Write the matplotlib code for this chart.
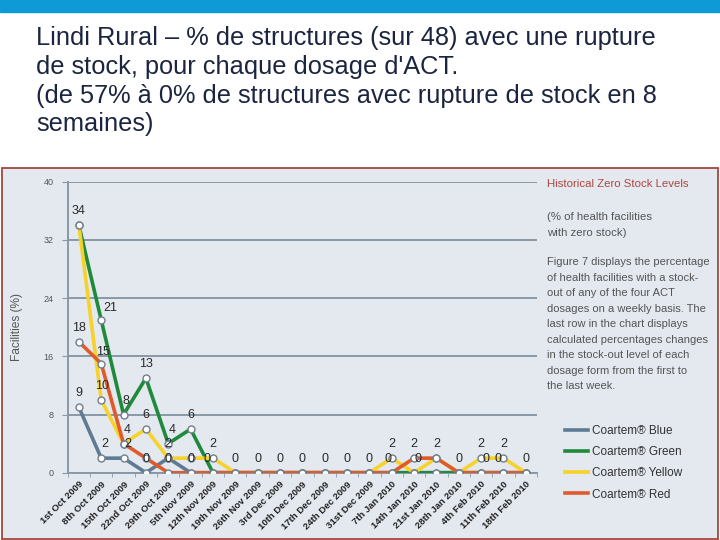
import matplotlib
matplotlib.use("Agg")
import matplotlib.pyplot as plt
from matplotlib.patches import Rectangle

# ── Data ──────────────────────────────────────────────────────────────────────
weeks = [
    "1st Oct 2009", "8th Oct 2009", "15th Oct 2009", "22nd Oct 2009",
    "29th Oct 2009", "5th Nov 2009", "12th Nov 2009", "19th Nov 2009",
    "26th Nov 2009", "3rd Dec 2009", "10th Dec 2009", "17th Dec 2009",
    "24th Dec 2009", "31st Dec 2009", "7th Jan 2010", "14th Jan 2010",
    "21st Jan 2010", "28th Jan 2010", "4th Feb 2010", "11th Feb 2010",
    "18th Feb 2010",
]
blue   = [9, 2, 2, 0, 2, 0, 0, 0, 0, 0, 0, 0, 0, 0, 0, 0, 0, 0, 0, 0, 0]
green  = [34, 21, 8, 13, 4, 6, 0, 0, 0, 0, 0, 0, 0, 0, 0, 0, 0, 0, 0, 0, 0]
yellow = [34, 10, 4, 6, 2, 2, 2, 0, 0, 0, 0, 0, 0, 0, 2, 0, 2, 0, 2, 2, 0]
red    = [18, 15, 4, 2, 0, 0, 0, 0, 0, 0, 0, 0, 0, 0, 0, 2, 2, 0, 0, 0, 0]

series_names = ["Coartem® Blue", "Coartem® Green", "Coartem® Yellow", "Coartem® Red"]
series = [blue, green, yellow, red]
series_colors = ["#5d7b93", "#1f8a3b", "#f6d22a", "#e05b2b"]

# value labels: (series index, week index, dx px, dy px)
labels = [
    (1, 0, 0, 8), (3, 0, 0, 8), (0, 0, 0, 8),
    (1, 1, 9, 6), (3, 1, 2, 6), (2, 1, 1, 8), (0, 1, 4, 8),
    (1, 2, 2, 8), (2, 2, 4, 8), (0, 2, 4, 8),
    (1, 3, 0, 8), (2, 3, 0, 8), (0, 3, 0, 8),
    (1, 4, 4, 8), (2, 4, 0, 8), (3, 4, 0, 8),
    (1, 5, 0, 8), (3, 5, 0, 8),
    (3, 6, -6, 8), (2, 6, 0, 8),
    (3, 7, 0, 8), (3, 8, 0, 8), (3, 9, 0, 8), (3, 10, 0, 8),
    (3, 11, 0, 8), (3, 12, 0, 8), (3, 13, 0, 8),
    (2, 14, 0, 8), (3, 14, -4, 8),
    (3, 15, 0, 8), (2, 15, 4, 8),
    (3, 16, 0, 8),
    (3, 17, 0, 8),
    (2, 18, 0, 8), (3, 18, 5, 8),
    (2, 19, 0, 8), (3, 19, -5, 8),
    (3, 20, 0, 8),
]

title = ("Lindi Rural – % de structures (sur 48) avec une rupture\n"
         "de stock, pour chaque dosage d'ACT.\n"
         "(de 57% à 0% de structures avec rupture de stock en 8\n"
         "semaines)")

side_head = "Historical Zero Stock Levels"
side_sub = "(% of health facilities\nwith zero stock)"
side_body = ("Figure 7 displays the percentage\n"
             "of health facilities with a stock-\n"
             "out of any of the four ACT\n"
             "dosages on a weekly basis. The\n"
             "last row in the chart displays\n"
             "calculated percentages changes\n"
             "in the stock-out level of each\n"
             "dosage form from the first to\n"
             "the last week.")

# ── Figure ────────────────────────────────────────────────────────────────────
W, H = 720, 540
fig = plt.figure(figsize=(7.2, 5.4), dpi=100)
plt.rcParams["font.family"] = ["Liberation Sans", "DejaVu Sans"]

# top blue bar and chart panel
fig.patches.append(Rectangle((0, 1 - 12 / H), 1, 12 / H, transform=fig.transFigure,
                             color="#0d9ad6", zorder=0))
fig.patches.append(Rectangle((1.5 / W, 1.5 / H), 716 / W, (372 - 1.5) / H,
                             transform=fig.transFigure, facecolor="#e4e9f0",
                             edgecolor="#a3473f", linewidth=1.3, zorder=0))

fig.text(36 / W, 1 - 26 / H, title, ha="left", va="top", fontsize=18.3,
         color="#1b2540", linespacing=1.25)

ax = fig.add_axes([67.7 / W, 1 - 472.7 / H, (537 - 67.7) / W, (472.7 - 181.7) / H])
ax.set_zorder(2)
ax.set_facecolor("none")
x = list(range(len(weeks)))

for vals, name, col in zip(series, series_names, series_colors):
    ax.plot(x, vals, color=col, linewidth=2.6, label=name, zorder=3,
            solid_joinstyle="round")
for vals in series:
    ax.plot(x, vals, linestyle="none", marker="o", markersize=5,
            markerfacecolor="white", markeredgecolor="#6f7f8e",
            markeredgewidth=1.0, zorder=5)

for si, wi, dx, dy in labels:
    ax.annotate(f"{series[si][wi]}", (wi, series[si][wi]), xytext=(dx * 0.72, dy * 0.72),
                textcoords="offset points", ha="center", va="bottom",
                fontsize=9, color="#2a2a2a", zorder=6)

ax.set_xlim(-0.45, 20.5)
ax.set_ylim(0, 40)
ax.set_yticks([0, 8, 16, 24, 32, 40])
ax.grid(axis="y", color="#8898a8", linewidth=1.4, zorder=1)
ax.set_axisbelow(True)
for s in ["top", "right"]:
    ax.spines[s].set_visible(False)
ax.spines["left"].set_color("#8898a8")
ax.spines["left"].set_linewidth(1.4)
ax.spines["bottom"].set_color("#8898a8")
ax.spines["bottom"].set_linewidth(1.4)
ax.tick_params(axis="y", length=4, color="#8898a8", labelsize=6.5,
               labelcolor="#555555", pad=6)
ax.set_xticks(x)
ax.set_xticklabels(weeks, rotation=45, ha="right", rotation_mode="anchor",
                   fontsize=6.8, fontweight="bold", color="#222222")
ax.tick_params(axis="x", length=0, pad=5)
ax.set_xticks([i + 0.5 for i in range(-1, 21)], minor=True)
ax.tick_params(axis="x", which="minor", length=3, color="#8898a8")
ax.set_ylabel("Facilities (%)", fontsize=8.6, color="#555555", labelpad=15)

ax.legend(loc="upper left", bbox_to_anchor=(565 / W, 1 - 425 / H),
          bbox_transform=fig.transFigure, frameon=False, fontsize=8.5,
          handlelength=1.95, handletextpad=0.35, labelspacing=0.78,
          labelcolor="#333333", borderaxespad=0, borderpad=0)

fig.text(547 / W, 1 - 184 / H, side_head, ha="left", va="center",
         fontsize=8.2, color="#b0463c")
fig.text(547 / W, 1 - 212 / H, side_sub, ha="left", va="top",
         fontsize=8.2, color="#555555", linespacing=1.75)
fig.text(547 / W, 1 - 257 / H, side_body, ha="left", va="top",
         fontsize=8.0, color="#555555", linespacing=1.69)

fig.savefig("out.png", dpi=100)
